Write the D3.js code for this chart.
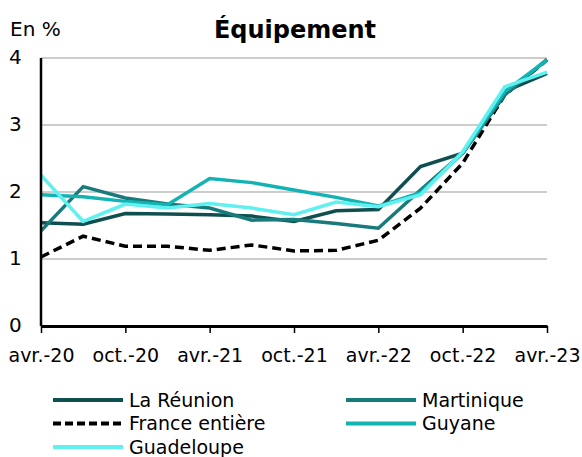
<!DOCTYPE html>
<html>
<head>
<meta charset="utf-8">
<script src="https://cdn.jsdelivr.net/npm/d3@7"></script>
<style>
  body { margin: 0; background: #fff; }
  svg { font-family: "DejaVu Sans", sans-serif; }
</style>
</head>
<body>
<svg id="chart" width="582" height="457"></svg>
<script>
// quarterly points, avr.-20 .. avr.-23
const quarters = d3.range(13);
const tickLabels = ['avr.-20', 'oct.-20', 'avr.-21', 'oct.-21', 'avr.-22', 'oct.-22', 'avr.-23'];
const yTicks = [0, 1, 2, 3, 4];

const reunion     = [1.54, 1.52, 1.68, 1.67, 1.66, 1.64, 1.56, 1.72, 1.74, 2.38, 2.58, 3.50, 3.77];
const martinique  = [1.42, 2.08, 1.91, 1.82, 1.76, 1.58, 1.59, 1.53, 1.46, 2.03, 2.58, 3.45, 3.98];
const france      = [1.03, 1.34, 1.19, 1.19, 1.13, 1.21, 1.12, 1.13, 1.28, 1.76, 2.43, 3.45, 3.97];
const guyane      = [1.96, 1.93, 1.86, 1.81, 2.20, 2.14, 2.03, 1.92, 1.79, 1.99, 2.58, 3.50, 3.97];
const guadeloupe  = [2.25, 1.56, 1.82, 1.76, 1.83, 1.76, 1.66, 1.85, 1.78, 1.96, 2.60, 3.57, 3.79];

const series = [
    { name: 'La Réunion', values: reunion, color: '#0f4f4f', dash: null },
    { name: 'Martinique', values: martinique, color: '#187a7b', dash: null },
    { name: 'Guyane', values: guyane, color: '#13b3b3', dash: null },
    { name: 'Guadeloupe', values: guadeloupe, color: '#60f0f0', dash: null },
    { name: 'France entière', values: france, color: '#000000', dash: '9,5' }
];

const svg = d3.select('#chart');
const margin = { left: 41, right: 35, top: 58, bottom: 131 };
const width = 582 - margin.left - margin.right;
const height = 457 - margin.top - margin.bottom;

const x = d3.scaleLinear().domain([0, 12]).range([0, width]);
const y = d3.scaleLinear().domain([0, 4]).range([height, 0]);

const g = svg.append('g').attr('transform', `translate(${margin.left},${margin.top})`);

// gridlines
g.selectAll('.grid')
    .data(yTicks.filter(d => d > 0))
    .join('line')
    .attr('x1', 0).attr('x2', width)
    .attr('y1', d => y(d)).attr('y2', d => y(d))
    .attr('stroke', '#bdbdbd')
    .attr('stroke-width', 1.5);

// y labels
g.selectAll('.ylab')
    .data(yTicks)
    .join('text')
    .attr('x', -32)
    .attr('y', d => y(d))
    .attr('dy', '0.3em')
    .attr('font-size', 20)
    .text(d => d);

// lines
const line = d3.line().x((d, i) => x(i)).y(d => y(d));
const drawOrder = [series[4], series[0], series[1], series[2], series[3]];
g.selectAll('.series')
    .data(drawOrder)
    .join('path')
    .attr('fill', 'none')
    .attr('stroke', d => d.color)
    .attr('stroke-width', 3.5)
    .attr('stroke-dasharray', d => d.dash)
    .attr('d', d => line(d.values));

// axes
g.append('line')
    .attr('x1', 0).attr('x2', 0)
    .attr('y1', 0).attr('y2', height)
    .attr('stroke', '#000').attr('stroke-width', 2.5);

const xAxis = d3.axisBottom(x)
    .tickValues(quarters.filter(i => i % 2 === 0))
    .tickFormat(i => tickLabels[i / 2])
    .tickSizeInner(7)
    .tickSizeOuter(0)
    .tickPadding(16);

const xa = g.append('g')
    .attr('transform', `translate(0,${height})`)
    .call(xAxis);
xa.select('.domain').attr('stroke', '#000').attr('stroke-width', 3);
xa.selectAll('.tick line').attr('stroke', '#000').attr('stroke-width', 1.5);
xa.selectAll('.tick text')
    .attr('font-size', 19)
    .attr('font-family', '"DejaVu Sans", sans-serif')
    .attr('fill', '#000');

// title and unit
svg.append('text')
    .attr('x', 295).attr('y', 38)
    .attr('text-anchor', 'middle')
    .attr('font-size', 24)
    .attr('font-weight', 'bold')
    .text('Équipement');

svg.append('text')
    .attr('x', 10).attr('y', 36)
    .attr('font-size', 20)
    .text('En %');

// legend
const legendItems = [
    { s: series[0], col: 0, row: 0 },
    { s: series[1], col: 1, row: 0 },
    { s: series[4], col: 0, row: 1 },
    { s: series[2], col: 1, row: 1 },
    { s: series[3], col: 0, row: 2 }
];
const legend = svg.append('g').attr('transform', 'translate(53,400)');
const li = legend.selectAll('g')
    .data(legendItems)
    .join('g')
    .attr('transform', d => `translate(${d.col * 293},${d.row * 23.5})`);
li.append('line')
    .attr('x1', 0).attr('x2', 70)
    .attr('stroke', d => d.s.color)
    .attr('stroke-width', 4)
    .attr('stroke-dasharray', d => d.s.dash ? '8,4' : null);
li.append('text')
    .attr('x', 76)
    .attr('dy', '0.35em')
    .attr('font-size', 19)
    .text(d => d.s.name);
</script>
</body>
</html>
